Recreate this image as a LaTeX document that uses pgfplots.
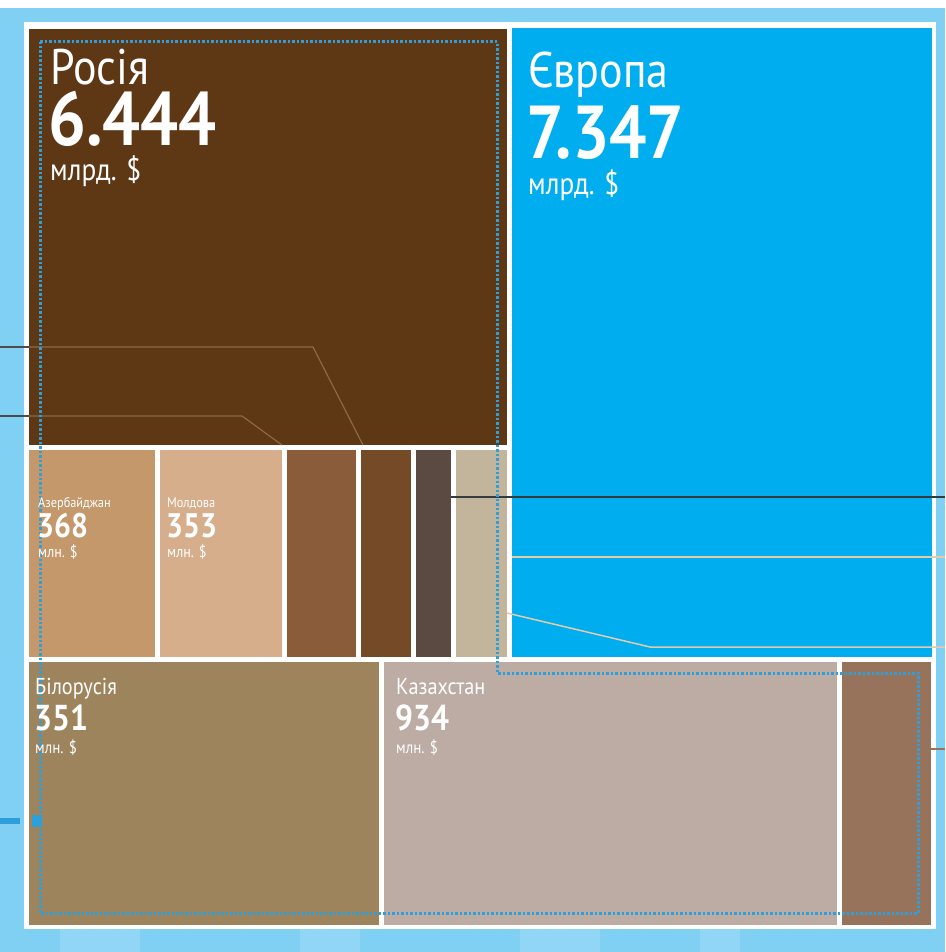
\documentclass[border=0pt]{standalone}
\usepackage{pgfplots}
\pgfplotsset{compat=1.18}
\usepackage{fontspec}
\newfontfamily\din{PT Sans}[FakeStretch=0.88]
\definecolor{lblue}{RGB}{128,208,244}
\definecolor{lblue2}{RGB}{145,214,246}
\definecolor{rus}{RGB}{94,56,20}
\definecolor{eur}{RGB}{0,174,239}
\definecolor{aze}{RGB}{196,152,106}
\definecolor{mol}{RGB}{214,174,140}
\definecolor{brA}{RGB}{138,92,58}
\definecolor{brB}{RGB}{117,75,39}
\definecolor{dkb}{RGB}{90,74,66}
\definecolor{bge}{RGB}{194,181,155}
\definecolor{bel}{RGB}{158,132,92}
\definecolor{kaz}{RGB}{188,172,163}
\definecolor{brC}{RGB}{151,115,92}
\definecolor{dotb}{RGB}{45,160,220}
\definecolor{leadin}{RGB}{140,104,72}
\definecolor{leadlt}{RGB}{226,204,172}
\definecolor{leaddk}{RGB}{50,60,62}
\newcommand{\cell}[5]{\addplot[fill=#5,draw=none] coordinates {(#1,#2) (#3,#2) (#3,#4) (#1,#4)};}
\tikzset{lab/.style={anchor=base west,text=white,inner sep=0pt},
  num/.style={lab,text depth=0pt},
  unit/.style={lab,text height=0.5em}}
\begin{document}
\begin{tikzpicture}
\begin{axis}[width=945pt,height=952pt,scale only axis,hide axis,
  xmin=0,xmax=945,ymin=0,ymax=952,y dir=reverse,clip=true]
% background
\cell{0}{0}{945}{952}{white}
\cell{0}{8}{945}{952}{lblue}
\cell{60}{929}{140}{952}{lblue2}
\cell{300}{929}{360}{952}{lblue2}
\cell{520}{929}{600}{952}{lblue2}
\cell{700}{929}{740}{952}{lblue2}
\cell{24}{22}{936}{929}{white}
% cells (x1,y1,x2,y2)
\cell{29}{29}{507}{445}{rus}
\cell{512}{28}{932}{657}{eur}
\cell{29}{450}{155}{657}{aze}
\cell{160}{450}{282}{657}{mol}
\cell{287}{450}{356}{657}{brA}
\cell{361}{450}{411}{657}{brB}
\cell{416}{450}{451}{657}{dkb}
\cell{456}{450}{507}{657}{bge}
\cell{29}{662}{379}{925}{bel}
\cell{384}{662}{837}{925}{kaz}
\cell{842}{662}{931}{925}{brC}
% leader lines
\addplot[draw=leadin,line width=1.2pt] coordinates {(29,347) (313,347) (363,445)};
\addplot[draw=leadin,line width=1.2pt] coordinates {(29,416) (242,416) (282,445)};
\addplot[draw=black!70,line width=1.2pt] coordinates {(0,347) (29,347)};
\addplot[draw=black!70,line width=1.2pt] coordinates {(0,416) (29,416)};
\addplot[draw=leaddk,line width=2.2pt] coordinates {(451,497) (945,497)};
\addplot[draw=leadlt,line width=1.5pt] coordinates {(512,557) (945,557)};
\addplot[draw=leadlt,line width=1.5pt] coordinates {(507,613) (650,647) (945,647)};
\addplot[draw=brC,line width=1.2pt] coordinates {(931,749) (945,749)};
\addplot[draw=dotb,line width=6pt] coordinates {(0,821) (20,821)};
\cell{32}{815}{42}{827}{dotb}
% dotted outline
\addplot[draw=dotb,line width=3pt,dash pattern=on 2.5pt off 2pt] coordinates
  {(40,42) (497,42) (497,673) (918,673) (918,913) (40,913) (40,42)};
% labels
\node[lab,font={\din\fontsize{50}{50}\selectfont}] at (axis cs:50,85) {Росія};
\node[num,font={\din\bfseries\fontsize{76}{76}\selectfont}] at (axis cs:48,146) {6.444};
\node[unit,font={\din\fontsize{31}{31}\selectfont}] at (axis cs:50,181) {млрд. \$};
\node[lab,font={\din\fontsize{50}{50}\selectfont}] at (axis cs:528,88) {Європа};
\node[num,font={\din\bfseries\fontsize{75}{75}\selectfont}] at (axis cs:526,159) {7.347};
\node[unit,font={\din\fontsize{31}{31}\selectfont}] at (axis cs:528,194) {млрд. \$};
% Azerbaijan
\node[lab,font={\din\fontsize{14}{14}\selectfont}] at (axis cs:38,507) {Азербайджан};
\node[num,font={\din\bfseries\fontsize{34}{34}\selectfont}] at (axis cs:37,537) {368};
\node[unit,font={\din\fontsize{16}{16}\selectfont}] at (axis cs:38,557) {млн. \$};
% Moldova
\node[lab,font={\din\fontsize{14}{14}\selectfont}] at (axis cs:167,507) {Молдова};
\node[num,font={\din\bfseries\fontsize{34}{34}\selectfont}] at (axis cs:166,537) {353};
\node[unit,font={\din\fontsize{16}{16}\selectfont}] at (axis cs:167,557) {млн. \$};
% Belarus
\node[lab,font={\din\fontsize{23}{23}\selectfont}] at (axis cs:35,694) {Білорусія};
\node[num,font={\din\bfseries\fontsize{36}{36}\selectfont}] at (axis cs:34,730) {351};
\node[unit,font={\din\fontsize{17}{17}\selectfont}] at (axis cs:35,753) {млн. \$};
% Kazakhstan
\node[lab,font={\din\fontsize{23}{23}\selectfont}] at (axis cs:396,694) {Казахстан};
\node[num,font={\din\bfseries\fontsize{36}{36}\selectfont}] at (axis cs:395,730) {934};
\node[unit,font={\din\fontsize{17}{17}\selectfont}] at (axis cs:396,753) {млн. \$};
\end{axis}
\end{tikzpicture}
\end{document}
